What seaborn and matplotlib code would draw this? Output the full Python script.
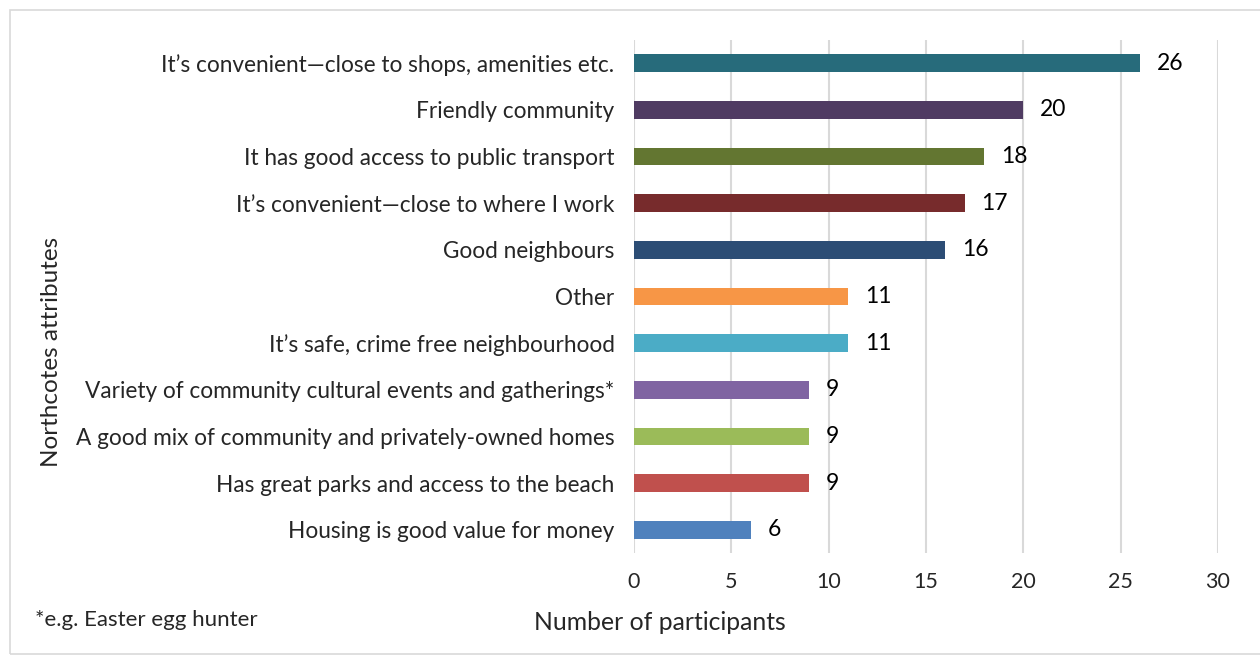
import matplotlib
matplotlib.use("Agg")
import matplotlib.pyplot as plt
import seaborn as sns
import pandas as pd
from matplotlib.patches import Rectangle

categories = [
    "It’s convenient—close to shops, amenities etc.",
    "Friendly community",
    "It has good access to public transport",
    "It’s convenient—close to where I work",
    "Good neighbours",
    "Other",
    "It’s safe, crime free neighbourhood",
    "Variety of community cultural events and gatherings*",
    "A good mix of community and privately-owned homes",
    "Has great parks and access to the beach",
    "Housing is good value for money",
]
values = [26, 20, 18, 17, 16, 11, 11, 9, 9, 9, 6]
colors = ["#276B7B", "#4F3B62", "#637631", "#772B2C", "#2C4D75", "#F79646",
          "#4BACC6", "#8064A2", "#9BBB59", "#C0504D", "#4F81BD"]
xticks = [0, 5, 10, 15, 20, 25, 30]

sns.set_theme(style="white")
plt.rcParams['font.family'] = ['Lato', 'DejaVu Sans']

df = pd.DataFrame({"cat": categories, "val": values})

fig = plt.figure(figsize=(12.6, 6.64), dpi=100)
ax = fig.add_axes([634/1260, 1 - 553/664, (1218-634)/1260, (553-40)/664])

sns.barplot(data=df, y="cat", x="val", hue="cat", palette=colors, order=categories,
            hue_order=categories, orient="h", width=0.38, legend=False, ax=ax,
            saturation=1, linewidth=0)

ax.set_xlim(0, 30)
ax.set_xticks(xticks)
ax.set_xticklabels([str(t) for t in xticks], fontsize=15.5)
ax.tick_params(axis="x", length=0, pad=14)
ax.tick_params(axis="y", length=0, pad=14, labelsize=16.3)
ax.grid(axis="x", color="#D9D9D9", linewidth=1.5)
ax.set_axisbelow(True)
for s in ax.spines.values():
    s.set_visible(False)
ax.set_xlabel("")
ax.set_ylabel("")

for i, v in enumerate(values):
    ax.text(v + 0.85, i, str(v), va="center", ha="left", fontsize=16.5, color="#000000")

fig.text(52/1260, 1 - 352/664, "Northcotes attributes", rotation=90, ha="center", va="center",
         fontsize=17.5)
fig.text(660/1260, 1 - 622/664, "Number of participants", ha="center", va="center", fontsize=17.8)
fig.text(35/1260, 1 - 620/664, "*e.g. Easter egg hunter", ha="left", va="center", fontsize=16)

fig.patches.append(Rectangle((10/1260, 10/664), 1.2, 1 - 20/664, transform=fig.transFigure,
                             fill=False, edgecolor="#D9D9D9", linewidth=1.2))

fig.savefig("out.png", dpi=100)
